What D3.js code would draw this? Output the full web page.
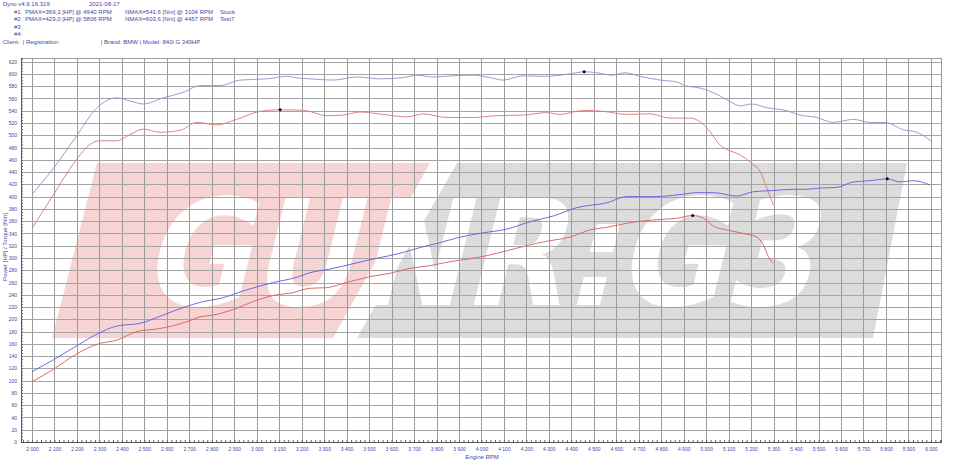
<!DOCTYPE html>
<html><head><meta charset="utf-8">
<script src="https://cdn.jsdelivr.net/npm/d3@7"></script>
<style>body{margin:0;background:#fff}svg{display:block;font-family:"Liberation Sans",Arial,sans-serif}</style>
</head><body><svg id="c" width="960" height="469"></svg>
<script>
// ---------- data ----------
const headerTitle = ["Dyno v4.9.16.319", "2021-08-17"];
const runIds = ["#1:", "#2:", "#3:", "#4:"];
const runPmax = ["PMAX=369,3 [HP] @ 4940 RPM", "PMAX=429,0 [HP] @ 5806 RPM", "", ""];
const runNmax = ["NMAX=541,6 [Nm] @ 3104 RPM", "NMAX=603,6 [Nm] @ 4457 RPM", "", ""];
const runNames = ["Stock", "Test7", "", ""];
const clientLine = ["Client:", "| Registration:", "| Brand: BMW | Model: 840i G 340HP"];
const xTitle = "Engine RPM";
const yTitle = "Power [HP] / Torque [Nm]";
const logoText = "GUNR:G3";

const xTicks = d3.range(2000, 6001, 100);
const yTicks = d3.range(0, 621, 20);

// Stock (run #1)
const stockTorque = [[2000,348],[2095,403],[2191,457],[2258,485],[2295,491],[2377,491],[2436,501],[2495,510],[2570,505],[2659,508],[2733,521],[2822,517],[2911,526],[3015,539],[3104,541.6],[3193,541],[3222,540],[3311,532],[3384,533],[3460,538],[3562,534],[3668,530],[3741,535],[3846,529],[3964,529],[4068,532],[4187,533],[4291,537],[4350,534],[4439,540],[4469,540.5],[4543,539],[4647,534],[4750,535],[4839,528],[4928,528],[4973,522],[5017,506],[5062,484],[5092,477],[5151,468],[5203,454],[5240,441],[5270,414],[5299,386]];
const stockPower = [[2000,98.3],[2095,118.5],[2191,142],[2295,160],[2377,166],[2466,180],[2570,185],[2688,196],[2748,204],[2807,207],[2896,216],[2985,229],[3089,240],[3148,242.5],[3237,250.6],[3311,251.6],[3400,260],[3504,269.5],[3593,275],[3682,283],[3771,287.5],[3860,294],[3979,300.5],[4068,307.6],[4157,316],[4246,324],[4320,329],[4394,334],[4483,345.7],[4558,350],[4662,357.6],[4765,362],[4869,364.7],[4940,369.3],[4988,364.7],[5032,352],[5092,345.7],[5166,340],[5225,334],[5255,321],[5277,302],[5299,291]];
// Test7 (run #2)
const test7Torque = [[2000,404],[2095,446],[2191,495],[2295,547],[2377,561],[2436,556],[2495,551],[2584,561],[2673,570],[2748,581],[2837,581],[2926,590],[3044,592],[3133,596],[3193,593],[3237,592],[3340,590],[3446,595],[3549,592],[3651,594],[3713,598],[3785,595],[3874,597],[3963,598],[4038,594],[4096,590],[4185,597],[4274,596],[4350,598],[4425,602],[4457,603.6],[4513,602],[4580,598],[4639,602],[4706,596],[4795,590],[4869,587],[4906,581],[4973,577],[5047,567],[5106,555],[5151,548],[5203,551],[5270,545],[5359,540],[5418,533],[5492,529],[5566,521],[5604,523],[5655,526],[5729,521],[5796,521],[5878,509],[5937,505],[6000,491]];
const test7Power = [[2000,114.6],[2095,134],[2191,155],[2295,177],[2377,189],[2481,193.5],[2584,207],[2688,221],[2762,229],[2837,234],[2955,248],[3074,260],[3178,268.5],[3237,276],[3326,282],[3445,292],[3534,299.5],[3638,307.6],[3727,317],[3816,325],[3905,334],[4008,341],[4112,347],[4216,359],[4320,368.5],[4424,382],[4558,390],[4647,400],[4765,400],[4899,404],[4958,406.5],[5032,406.5],[5136,401],[5210,408],[5299,410],[5388,412],[5448,412],[5507,414],[5581,415],[5655,424],[5729,426],[5806,429],[5863,424],[5922,426],[5996,419]];

const peakRpm = [3104, 4940, 4457, 5806];
const peakVal = [541.6, 369.3, 603.6, 429.0];

// ---------- layout ----------
const svg = d3.select("#c");
const L = 21, R = 941, T = 58, B = 442;
const x = d3.scaleLinear().domain([1951, 6045]).range([L, R]);
const y = d3.scaleLinear().domain([0, 626]).range([B, T]);
const txtCol = "#4646a8";

// logo watermark
const logo = svg.append("g");
logo.append("path").attr("d", "M97,163 L430,163 L333,338 L52,338 Z").attr("fill", "#f6d4d4");
logo.append("path").attr("d", "M457,163 L907,163 L873,338 L357,338 Z").attr("fill", "#dcdcdc");
logo.append("text")
  .attr("transform", "translate(140,305) skewX(-14)")
  .attr("x", 0).attr("y", 0)
  .attr("font-family", "DejaVu Sans").attr("font-weight", "bold")
  .attr("font-size", 148)
  .attr("textLength", 672).attr("lengthAdjust", "spacingAndGlyphs")
  .attr("fill", "#fff").text(logoText);

// grid
const grid = svg.append("g");
grid.append("g").attr("transform", `translate(0,${B})`)
  .call(d3.axisBottom(x).tickValues(xTicks).tickSize(-(B - T)).tickFormat(""))
  .call(g => g.select(".domain").remove())
  .call(g => g.selectAll("line").attr("stroke", "#9c9c9c").attr("shape-rendering", "crispEdges"));
grid.append("g").attr("transform", `translate(${L},0)`)
  .call(d3.axisLeft(y).tickValues(yTicks).tickSize(-(R - L)).tickFormat(""))
  .call(g => g.select(".domain").remove())
  .call(g => g.selectAll("line").attr("stroke", "#a4a4a4").attr("shape-rendering", "crispEdges"));

// frame
svg.append("rect").attr("x", L).attr("y", T).attr("width", R - L).attr("height", B - T)
  .attr("fill", "none").attr("stroke", "#9a9a9a").attr("shape-rendering", "crispEdges");

// minor ticks
svg.append("g").attr("transform", `translate(${L},0)`)
  .call(d3.axisRight(y).tickValues(d3.range(0, 626, 5)).tickSize(2).tickFormat(""))
  .call(g => g.select(".domain").attr("stroke", "#555"))
  .call(g => g.selectAll("line").attr("stroke", "#666"));
svg.append("g").attr("transform", `translate(0,${B})`)
  .call(d3.axisTop(x).tickValues(d3.range(1960, 6041, 20)).tickSize(2).tickFormat(""))
  .call(g => g.select(".domain").attr("stroke", "#555"))
  .call(g => g.selectAll("line").attr("stroke", "#666"));

// tick labels
svg.append("g").attr("transform", `translate(${L},0)`)
  .call(d3.axisLeft(y).tickValues(yTicks).tickSize(0).tickPadding(4).tickFormat(d3.format("d")))
  .call(g => g.select(".domain").remove())
  .call(g => g.selectAll("text").attr("fill", txtCol).attr("font-size", 5).attr("font-family", "Liberation Sans"));
svg.append("g").attr("transform", `translate(0,${B})`)
  .call(d3.axisBottom(x).tickValues(xTicks).tickSize(0).tickPadding(5)
    .tickFormat(d => d3.format(",")(d).replace(",", " ")))
  .call(g => g.select(".domain").remove())
  .call(g => g.selectAll("text").attr("fill", txtCol).attr("font-size", 5).attr("font-family", "Liberation Sans"));

// axis titles
svg.append("text").attr("x", 482).attr("y", 459).attr("text-anchor", "middle")
  .attr("font-size", 6).attr("fill", txtCol).text(xTitle);
svg.append("text").attr("transform", "translate(7,247) rotate(-90)").attr("text-anchor", "middle")
  .attr("font-size", 6).attr("fill", txtCol).text(yTitle);

// curves
const line = d3.line().x(d => x(d[0])).y(d => y(d[1])).curve(d3.curveMonotoneX);
const series = [
  [test7Torque, "#9090cc"],
  [stockTorque, "#d87878"],
  [test7Power, "#5c5ce0"],
  [stockPower, "#d85c5c"]
];
svg.append("g").selectAll("path").data(series).join("path")
  .attr("d", d => line(d[0])).attr("fill", "none")
  .attr("stroke", d => d[1]).attr("stroke-width", 0.9);

svg.append("g").selectAll("circle").data(peakRpm).join("circle")
  .attr("cx", d => x(d)).attr("cy", (d, i) => y(peakVal[i])).attr("r", 1.5).attr("fill", "#000");

// header
const hdr = svg.append("g").attr("font-size", 6).attr("fill", txtCol);
hdr.append("text").attr("x", 2.7).attr("y", 6.3).text(headerTitle[0]);
hdr.append("text").attr("x", 89).attr("y", 6.3).text(headerTitle[1]);
const rowY = [14.3, 21.3, 28.8, 36.2];
runIds.forEach((id, i) => {
  hdr.append("text").attr("x", 14).attr("y", rowY[i]).text(id);
  hdr.append("text").attr("x", 25).attr("y", rowY[i]).text(runPmax[i]);
  hdr.append("text").attr("x", 125).attr("y", rowY[i]).text(runNmax[i]);
  hdr.append("text").attr("x", 220).attr("y", rowY[i]).text(runNames[i]);
});
hdr.append("text").attr("x", 2.7).attr("y", 44.3).text(clientLine[0]);
hdr.append("text").attr("x", 22.7).attr("y", 44.3).text(clientLine[1]);
hdr.append("text").attr("x", 100.7).attr("y", 44.3).text(clientLine[2]);
</script></body></html>
